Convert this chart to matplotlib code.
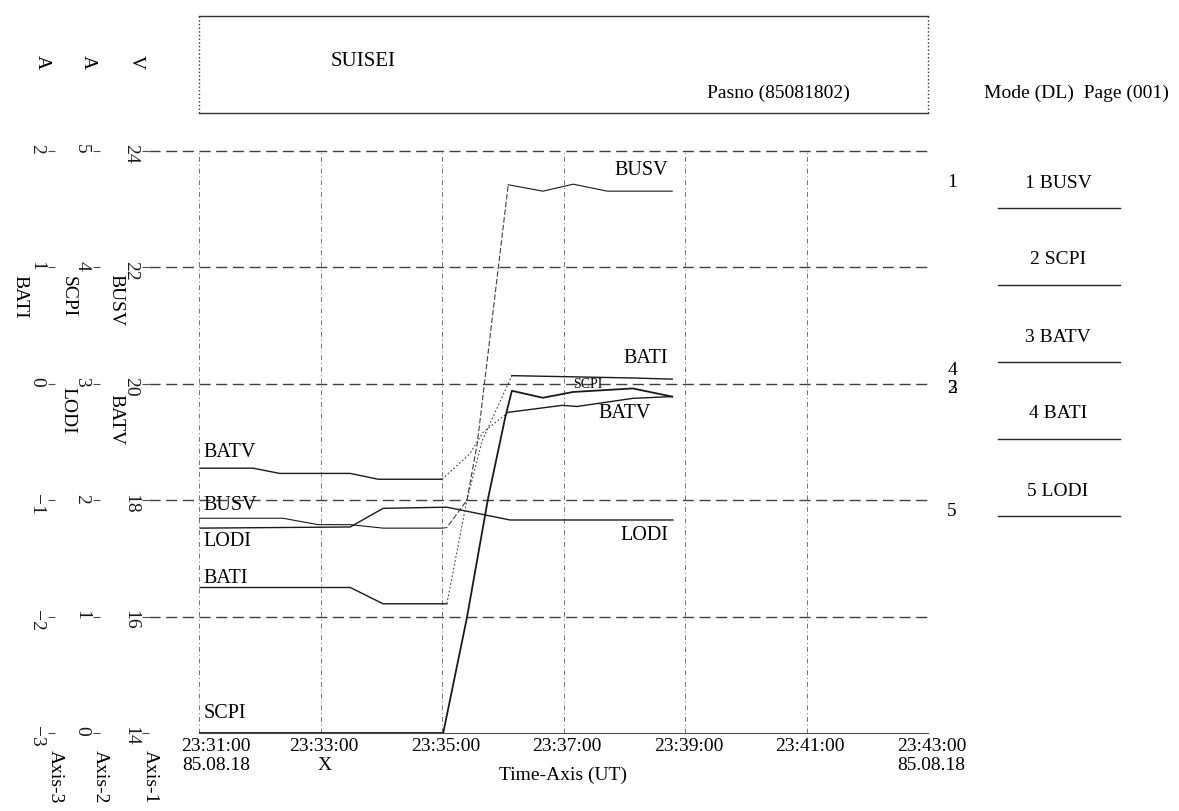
import matplotlib
matplotlib.use("Agg")
import matplotlib.pyplot as plt
from matplotlib.lines import Line2D
from matplotlib.transforms import blended_transform_factory

plt.rcParams['font.family'] = ['Liberation Serif', 'DejaVu Serif']

W, H = 1179, 811

# time in minutes after 23:31:00 UT, values
busv_t = [0.0, 1.38, 1.96, 2.49, 3.03, 4.0, 4.08, 4.41, 4.58, 5.09, 5.66, 6.16, 6.72, 7.79]
busv_v = [17.69, 17.69, 17.58, 17.58, 17.52, 17.52, 17.53, 18.00, 18.97, 23.42, 23.31, 23.43, 23.31, 23.31]

batv_t = [0.02, 0.89, 1.33, 2.49, 2.95, 4.0, 4.46, 4.67, 5.09, 5.98, 6.22, 7.14, 7.79]
batv_v = [18.55, 18.55, 18.46, 18.46, 18.36, 18.36, 18.80, 19.16, 19.51, 19.63, 19.61, 19.75, 19.78]

scpi_t = [0.0, 4.02, 4.41, 4.76, 5.04, 5.15, 5.66, 6.16, 7.14, 7.79]
scpi_a = [0.0, 0.0, 0.99, 2.02, 2.71, 2.94, 2.88, 2.93, 2.96, 2.89]

lodi_t = [0.02, 2.49, 3.03, 4.08, 5.12, 7.80]
lodi_a = [1.76, 1.77, 1.93, 1.94, 1.83, 1.83]

bati_t = [0.02, 2.49, 3.03, 4.08, 4.41, 4.66, 5.15, 7.14, 7.79]
bati_a = [-1.75, -1.75, -1.89, -1.89, -1.00, -0.49, 0.07, 0.05, 0.04]

time_ticks = [0, 2, 4, 6, 8, 10, 12]
time_labels = ["23:31:00\n85.08.18", "23:33:00\nX", "23:35:00", "23:37:00",
               "23:39:00", "23:41:00", "23:43:00\n85.08.18"]

axis1_ticks = [14, 16, 18, 20, 22, 24]
axis2_ticks = [0, 1, 2, 3, 4, 5]
axis3_ticks = [-3, -2, -1, 0, 1, 2]

legend_names = ["1 BUSV", "2 SCPI", "3 BATV", "4 BATI", "5 LODI"]


def fx(px):
    return px / W


def fy(py):
    return 1 - py / H


fig = plt.figure(figsize=(W / 100, H / 100), dpi=100)
left, right, top, bottom = 199, 928, 151, 733
ax1 = fig.add_axes([fx(left), fy(bottom), (right - left) / W, (bottom - top) / H])
ax2 = ax1.twinx()
ax3 = ax1.twinx()

ink = '0.1'
for ax, lim, ticks, off in [(ax1, (14, 24), axis1_ticks, 50),
                            (ax2, (0, 5), axis2_ticks, 99),
                            (ax3, (-3, 2), axis3_ticks, 144)]:
    ax.set_xlim(0, 12)
    ax.set_ylim(*lim)
    ax.patch.set_visible(False)
    ax.yaxis.set_ticks_position('left')
    ax.spines['left'].set_position(('outward', off * 0.72))
    for s in ['top', 'right', 'left', 'bottom']:
        ax.spines[s].set_visible(False)
    ax.set_yticks(ticks)
    ax.set_yticklabels([str(v).replace('-', '\u2212') for v in ticks])
    ax.tick_params(axis='y', direction='out', length=5, width=0.8, color='0.3',
                   labelrotation=-90, labelsize=14, pad=2, labelcolor=ink)
    ax.set_xticks([])

ax1.spines['bottom'].set_visible(True)
ax1.spines['bottom'].set_linewidth(0.8)
ax1.spines['bottom'].set_color('0.3')

# grid
for v in axis1_ticks[1:]:
    ax1.axhline(v, xmin=-50 / 729, xmax=1, clip_on=False, color='0.25', lw=1.0,
                dashes=(8, 4), zorder=1)
for t in time_ticks:
    ax1.axvline(t, color='0.45', lw=0.7, dashes=(5, 3, 1, 3), zorder=1)


def draw(ax, t, v, rise=None, lw=0.9, rise_dash=(5, 2)):
    if rise is None:
        ax.plot(t, v, color=ink, lw=lw, zorder=3)
        return
    a, b = rise
    ax.plot(t[:a + 1], v[:a + 1], color=ink, lw=lw, zorder=3)
    ax.plot(t[a:b + 1], v[a:b + 1], color='0.25', lw=0.8, dashes=rise_dash, zorder=3)
    ax.plot(t[b:], v[b:], color=ink, lw=lw, zorder=3)


draw(ax1, busv_t, busv_v, rise=(5, 9), lw=0.8)
draw(ax1, batv_t, batv_v, rise=(5, 8), lw=1.0, rise_dash=(1.5, 2))
draw(ax2, scpi_t, scpi_a, lw=1.3)
draw(ax2, lodi_t, lodi_a, lw=1.0)
draw(ax3, bati_t, bati_a, rise=(3, 6), lw=1.0, rise_dash=(1.5, 2))

# labels next to the traces
fs = 14.5
ax1.text(0.07, 18.82, "BATV", fontsize=fs, va='center', ha='left')
ax1.text(0.07, 17.91, "BUSV", fontsize=fs, va='center', ha='left')
ax1.text(0.07, 17.29, "LODI", fontsize=fs, va='center', ha='left')
ax1.text(0.07, 16.66, "BATI", fontsize=fs, va='center', ha='left')
ax1.text(0.07, 14.34, "SCPI", fontsize=fs, va='center', ha='left')
ax1.text(7.72, 23.66, "BUSV", fontsize=fs, va='center', ha='right')
ax1.text(7.72, 20.43, "BATI", fontsize=fs, va='center', ha='right')
ax1.text(6.40, 19.99, "SCPI", fontsize=10, va='center', ha='center')
ax1.text(7.01, 19.49, "BATV", fontsize=fs, va='center', ha='center')
ax1.text(7.72, 17.40, "LODI", fontsize=fs, va='center', ha='right')

# time axis labels
xt = blended_transform_factory(ax1.transData, fig.transFigure)
for i, (t, lab) in enumerate(zip(time_ticks, time_labels)):
    x = t + (0.28 if i == 0 else 0.06)
    ax1.text(x, fy(738), lab, transform=xt, ha='center', va='top',
             fontsize=14, linespacing=1.15)
fig.text(fx(563), fy(775), "Time-Axis (UT)", ha='center', va='center', fontsize=14)

# end-of-trace markers on the right
for ax, lab, v in [(ax1, "1", busv_v[-1]), (ax3, "4", bati_a[-1]),
                   (ax1, "3", batv_v[-1]), (ax2, "2", scpi_a[-1]),
                   (ax2, "5", lodi_a[-1])]:
    tr = blended_transform_factory(fig.transFigure, ax.transData)
    ax.text(fx(952), v, lab, transform=tr, ha='center', va='bottom', fontsize=14)

# legend on the right
for i, name in enumerate(legend_names):
    y = 183 + i * 77
    fig.text(fx(1058), fy(y), name, ha='center', va='center', fontsize=14)
    fig.add_artist(Line2D([fx(998), fx(1120)], [fy(y + 25), fy(y + 25)],
                          color='0.15', lw=1.0))

# axis titles on the left (rotated)
rot = dict(rotation=-90, ha='center', va='center', fontsize=14)
fig.text(fx(116), fy(300), "BUSV", **rot)
fig.text(fx(116), fy(420), "BATV", **rot)
fig.text(fx(68), fy(297), "SCPI", **rot)
fig.text(fx(68), fy(410), "LODI", **rot)
fig.text(fx(20), fy(297), "BATI", **rot)
fig.text(fx(150), fy(777), "Axis-1", **rot)
fig.text(fx(100), fy(777), "Axis-2", **rot)
fig.text(fx(55), fy(777), "Axis-3", **rot)
fig.text(fx(42), fy(62), "A", **rot)
fig.text(fx(88), fy(62), "A", **rot)
fig.text(fx(136), fy(62), "V", **rot)

# header box
for (x0, y0, x1, y1, st) in [(199, 16, 928, 16, '-'), (199, 113, 928, 113, '-'),
                             (199, 16, 199, 113, ':'), (928, 16, 928, 113, ':')]:
    fig.add_artist(Line2D([fx(x0), fx(x1)], [fy(y0), fy(y1)], color='0.2',
                          lw=1.0, linestyle=st))
fig.text(fx(363), fy(62), "SUISEI", ha='center', va='center', fontsize=15)
fig.text(fx(778), fy(93), "Pasno (85081802)", ha='center', va='center', fontsize=14)
fig.text(fx(1076), fy(93), "Mode (DL)  Page (001)", ha='center', va='center', fontsize=14)

fig.savefig("out.png", dpi=100)
